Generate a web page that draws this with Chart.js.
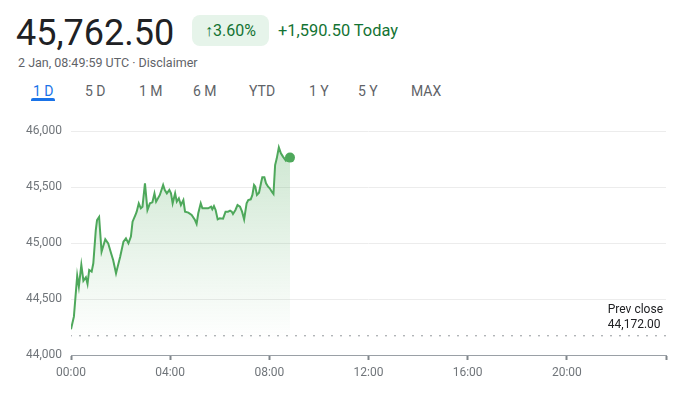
<!DOCTYPE html>
<html>
<head>
<meta charset="utf-8">
<script src="https://cdn.jsdelivr.net/npm/chart.js@4.4.1/dist/chart.umd.min.js"></script>
<style>
  html, body { margin: 0; padding: 0; background: #fff; }
  body { width: 682px; height: 401px; position: relative; overflow: hidden; font-family: Roboto, "Noto Sans", Arial, sans-serif; }
  .abs { position: absolute; white-space: nowrap; }
  #price { left: 16px; top: 15px; font-size: 36px; line-height: 36px; color: #202124; }
  #badge { left: 192px; top: 15px; width: 77px; height: 31px; background: #e6f4ea; border-radius: 8px; color: #137333; font-size: 16px; line-height: 31px; text-align: center; }
  #today { left: 278px; top: 15px; font-size: 16.4px; line-height: 31px; color: #137333; }
  #sub { left: 18px; top: 55px; font-size: 12.5px; line-height: 15px; color: #5f6368; }
  .tab { top: 82px; font-size: 14px; line-height: 18px; color: #5f6368; }
  .tab.active { color: #1a73e8; }
  #underline { left: 31px; top: 98px; width: 24px; height: 3px; background: #1a73e8; border-radius: 2px 2px 0 0; }
  #prev { right: 19px; top: 302px; font-size: 12px; line-height: 15px; color: #202124; text-align: left; }
  #wrap { position: absolute; left: 0; top: 110px; width: 682px; height: 291px; }
</style>
</head>
<body>
<div id="price" class="abs">45,762.50</div>
<div id="badge" class="abs">↑3.60%</div>
<div id="today" class="abs">+1,590.50 Today</div>
<div id="sub" class="abs">2 Jan, 08:49:59 UTC · Disclaimer</div>
<div class="abs tab active" style="left:33px">1 D</div>
<div class="abs tab" style="left:85px">5 D</div>
<div class="abs tab" style="left:139px">1 M</div>
<div class="abs tab" style="left:193px">6 M</div>
<div class="abs tab" style="left:249px">YTD</div>
<div class="abs tab" style="left:309px">1 Y</div>
<div class="abs tab" style="left:358px">5 Y</div>
<div class="abs tab" style="left:411px">MAX</div>
<div id="underline" class="abs"></div>
<div id="wrap"><canvas id="c" width="682" height="291"></canvas></div>
<div id="prev" class="abs">Prev close<br>44,172.00</div>
<script>
// minutes after 00:00 UTC
const minutes = [0,7,15,19,25,30,36,40,44,50,54,60,63,68,74,83,90,97,102,109,113,119,127,133,139,145,149,156,159,164,169,173,179,185,191,197,202,206,215,223,227,232,238,242,246,252,256,261,266,272,276,284,292,300,304,308,314,318,324,332,339,342,346,350,355,360,368,374,380,385,389,392,398,403,409,414,419,425,429,435,439,443,446,450,455,460,463,468,472,477,481,486,490,494,498,503,508,513,520,525,530];
const prices = [44230,44342,44708,44610,44804,44663,44694,44634,44759,44744,44819,45116,45205,45232,44922,45033,44997,44908,44848,44729,44789,44878,45012,45042,44997,45057,45190,45250,45280,45354,45310,45324,45533,45295,45354,45363,45443,45369,45429,45518,45473,45443,45473,45443,45354,45443,45369,45399,45339,45384,45280,45271,45250,45205,45170,45265,45354,45310,45310,45310,45324,45301,45330,45295,45211,45220,45217,45280,45280,45289,45280,45259,45295,45339,45324,45280,45211,45354,45384,45390,45429,45518,45503,45429,45449,45538,45586,45586,45533,45503,45488,45458,45438,45696,45756,45854,45801,45771,45735,45756,45762.5];
const prevClose = 44172.00;
const dayStart = 0, dayEnd = 1440;
const yMin = 44000, yMax = 46000, yStep = 500, xStep = 240;

const green = '#4ea85b';
const series = minutes.map((m, i) => ({ x: m, y: prices[i] }));
const lastIdx = series.length - 1;

function fmtTime(v) {
  const h = Math.floor(v / 60), m = v % 60;
  return String(h).padStart(2, '0') + ':' + String(m).padStart(2, '0');
}

new Chart(document.getElementById('c'), {
  type: 'line',
  data: {
    datasets: [
      {
        data: series,
        borderColor: green,
        borderWidth: 2,
        tension: 0,
        fill: 'start',
        backgroundColor: (ctx) => {
          const ca = ctx.chart.chartArea;
          if (!ca) return 'rgba(78,168,91,0.2)';
          const g = ctx.chart.ctx.createLinearGradient(0, ca.top + 15, 0, ca.bottom - 15);
          g.addColorStop(0, 'rgba(78,168,91,0.28)');
          g.addColorStop(1, 'rgba(78,168,91,0)');
          return g;
        },
        pointRadius: (ctx) => ctx.dataIndex === lastIdx ? 5 : 0,
        pointBackgroundColor: green,
        pointBorderWidth: 0,
        order: 1
      },
      {
        data: [{ x: dayStart, y: prevClose }, { x: dayEnd, y: prevClose }],
        borderColor: '#80868b',
        borderWidth: 1.6,
        borderDash: [0, 9],
        borderCapStyle: 'round',
        pointRadius: 0,
        fill: false,
        order: 2
      }
    ]
  },
  options: {
    responsive: false,
    animation: false,
    layout: { padding: { top: 21, right: 16, left: 0, bottom: 0 } },
    plugins: { legend: { display: false }, tooltip: { enabled: false } },
    scales: {
      x: {
        type: 'linear',
        min: dayStart,
        max: dayEnd,
        afterFit: (s) => { s.height = 46; },
        ticks: {
          stepSize: xStep,
          autoSkip: false,
          padding: 6,
          color: '#70757a',
          font: { family: 'Roboto', size: 12 },
          callback: (v) => v >= dayEnd ? '' : fmtTime(v)
        },
        grid: { drawOnChartArea: false, drawTicks: true, tickLength: 5, tickWidth: 2, tickColor: '#80868b' },
        border: { display: true, color: '#9aa0a6', width: 1 }
      },
      y: {
        min: yMin,
        max: yMax,
        afterFit: (s) => { s.width = 71; },
        ticks: {
          stepSize: yStep,
          padding: 9,
          color: '#70757a',
          font: { family: 'Roboto', size: 12 },
          callback: (v) => v.toLocaleString('en-US')
        },
        grid: { color: '#ececec', drawTicks: false, lineWidth: 1 },
        border: { display: false }
      }
    }
  }
});
</script>
</body>
</html>
